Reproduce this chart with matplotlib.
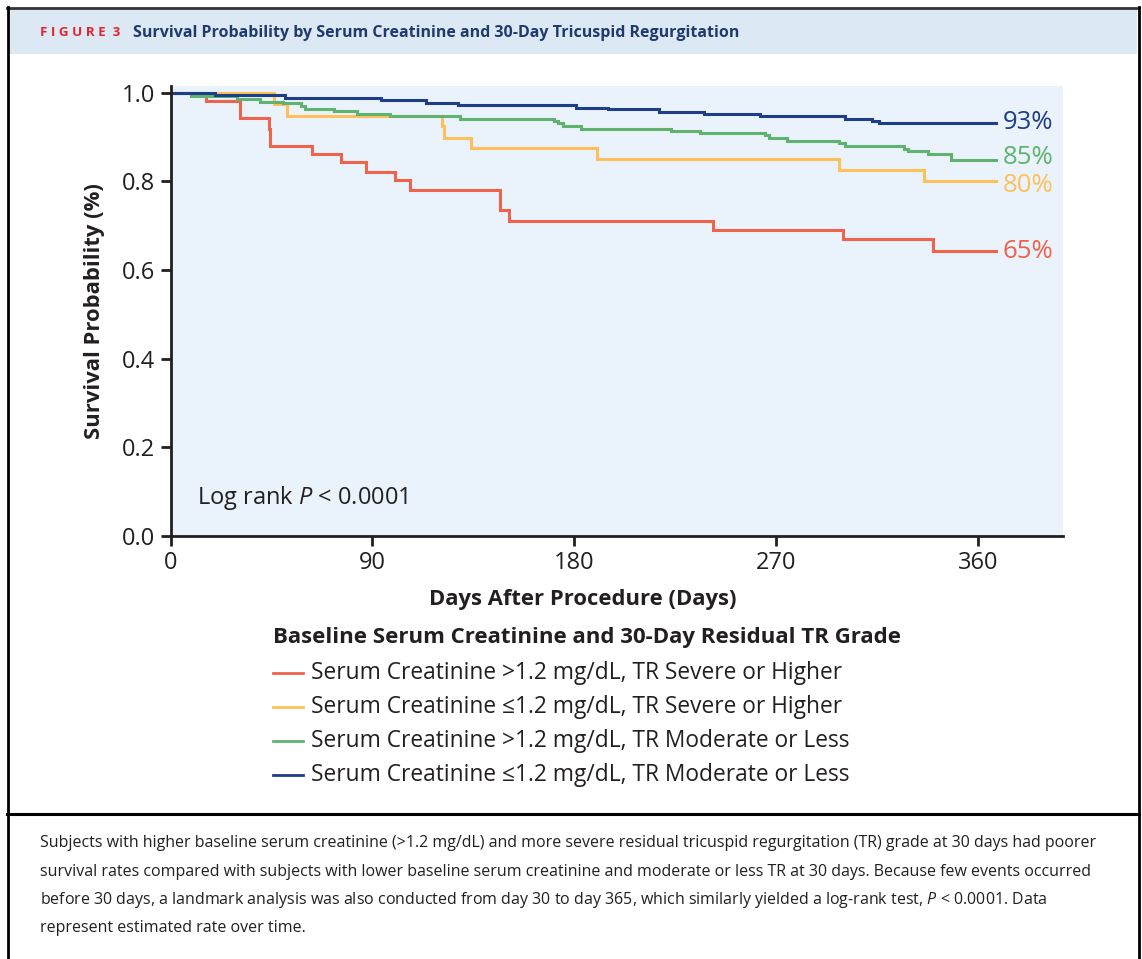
import matplotlib
matplotlib.use('Agg')
import matplotlib.pyplot as plt
from matplotlib.lines import Line2D
from matplotlib.patches import Rectangle

plt.rcParams['font.family'] = ['Open Sans', 'DejaVu Sans']
plt.rcParams['mathtext.fontset'] = 'custom'
plt.rcParams['mathtext.it'] = 'Open Sans:italic'
plt.rcParams['mathtext.rm'] = 'Open Sans'

W, H = 1142, 959

# kaplan-meier steps (days, survival)
red_t = [0, 16, 31, 44, 44.5, 63, 76, 87, 100, 107, 147, 151, 242, 300, 340, 368]
red_s = [1.0, 0.982, 0.943, 0.919, 0.881, 0.862, 0.844, 0.821, 0.803, 0.781, 0.736, 0.711, 0.691, 0.670, 0.643, 0.643]

yel_t = [0, 46, 52, 121, 122, 134, 190, 298, 336, 368]
yel_s = [1.0, 0.975, 0.948, 0.925, 0.899, 0.875, 0.851, 0.826, 0.800, 0.800]

grn_t = [0, 9, 29.5, 40, 50, 58, 60, 73, 83, 98, 129, 171, 173, 175, 183, 223, 236,
         265, 267, 275, 298, 301, 327, 329, 338, 348, 368]
grn_s = [1.0, 0.993, 0.986, 0.980, 0.977, 0.971, 0.964, 0.960, 0.953, 0.947, 0.940, 0.936, 0.932,
         0.926, 0.918, 0.914, 0.909, 0.905, 0.898, 0.891, 0.886, 0.880, 0.874, 0.869, 0.862, 0.849, 0.849]

blu_t = [0, 20, 51, 94, 114, 128, 181, 195, 218, 238, 263, 301, 313, 316, 368]
blu_s = [1.0, 0.995, 0.989, 0.983, 0.976, 0.972, 0.966, 0.963, 0.956, 0.952, 0.947, 0.941, 0.937, 0.932, 0.932]

group_names = ['Serum Creatinine >1.2 mg/dL, TR Severe or Higher',
               'Serum Creatinine \u22641.2 mg/dL, TR Severe or Higher',
               'Serum Creatinine >1.2 mg/dL, TR Moderate or Less',
               'Serum Creatinine \u22641.2 mg/dL, TR Moderate or Less']
end_labels = ['65%', '80%', '85%', '93%']
end_label_y = [0.643, 0.790, 0.853, 0.932]
colors = ['#F0634B', '#FDC05A', '#5FB36F', '#1E3F87']

caption = ["Subjects with higher baseline serum creatinine (>1.2 mg/dL) and more severe residual tricuspid regurgitation (TR) grade at 30 days had poorer",
           "survival rates compared with subjects with lower baseline serum creatinine and moderate or less TR at 30 days. Because few events occurred",
           "before 30 days, a landmark analysis was also conducted from day 30 to day 365, which similarly yielded a log-rank test, $P$ < 0.0001. Data",
           "represent estimated rate over time."]

dark = '#231F20'

def fx(x):
    return x / W

def fy(y):
    return 1 - y / H

fig = plt.figure(figsize=(W / 100, H / 100), dpi=100)

# frame and header band
fig.add_artist(Rectangle((fx(9), fy(54)), fx(1137) - fx(9), fy(9) - fy(54),
                         transform=fig.transFigure, color='#DCE9F5', lw=0))
fig.add_artist(Line2D([fx(7), fx(1139)], [fy(7.5), fy(7.5)], transform=fig.transFigure, color='#333333', lw=2))
fig.add_artist(Line2D([fx(7.5), fx(7.5)], [fy(7), 0], transform=fig.transFigure, color='black', lw=2))
fig.add_artist(Line2D([fx(1138.5), fx(1138.5)], [fy(7), 0], transform=fig.transFigure, color='black', lw=2))
fig.add_artist(Line2D([fx(7), fx(1139)], [fy(814), fy(814)], transform=fig.transFigure, color='black', lw=2.2))

fig.text(fx(40), fy(33), 'F I G U R E  3', color='#E4232E', fontsize=9.6, fontweight='bold', va='center')
fig.text(fx(133), fy(33), 'Survival Probability by Serum Creatinine and 30-Day Tricuspid Regurgitation',
         color='#1F3A6E', fontsize=11.5, fontweight='bold', va='center')

# main axes
ax = fig.add_axes([fx(170.5), fy(536), fx(1063) - fx(170.5), fy(85.7) - fy(536)])
ax.set_facecolor('#EAF2FB')
series = [(red_t, red_s), (yel_t, yel_s), (grn_t, grn_s), (blu_t, blu_s)]
for (t, s), c in zip(series, colors):
    ax.step(t, s, where='post', color=c, lw=2.2, solid_joinstyle='miter')
for lab, yv, c in zip(end_labels, end_label_y, colors):
    ax.text(371, yv, lab, color=c, fontsize=18.5, va='center', ha='left')

ax.set_xlim(0, 398)
ax.set_ylim(0, 1.016)
ax.set_xticks([0, 90, 180, 270, 360])
ax.set_yticks([0.0, 0.2, 0.4, 0.6, 0.8, 1.0])
ax.set_yticklabels(['0.0', '0.2', '0.4', '0.6', '0.8', '1.0'])
for side in ['top', 'right']:
    ax.spines[side].set_visible(False)
for side in ['left', 'bottom']:
    ax.spines[side].set_color(dark)
    ax.spines[side].set_linewidth(2)
ax.tick_params(axis='both', colors=dark, labelsize=17, width=2, length=7, pad=4)
ax.set_xlabel('Days After Procedure (Days)', fontsize=15.8, fontweight='bold', color=dark)
ax.xaxis.set_label_coords(0.462, -0.117)
ax.set_ylabel('Survival Probability (%)', fontsize=15.8, fontweight='bold', color=dark, labelpad=12)
ax.text(0.03, 0.085, 'Log rank $P$ < 0.0001', transform=ax.transAxes, fontsize=17, color=dark, va='center')

# legend
fig.text(fx(273), fy(638), 'Baseline Serum Creatinine and 30-Day Residual TR Grade',
         fontsize=16, fontweight='bold', color=dark, va='center')
for i, (name, c) in enumerate(zip(group_names, colors)):
    yy = 673 + i * 34
    fig.add_artist(Line2D([fx(273), fx(303)], [fy(yy), fy(yy)], transform=fig.transFigure, color=c, lw=2))
    fig.text(fx(311), fy(yy), name, fontsize=16.4, color=dark, va='center')

# caption
for i, line in enumerate(caption):
    fig.text(fx(40), fy(843 + i * 28.5), line, fontsize=11.5, color=dark, va='center')

fig.savefig('out.png', dpi=100)
